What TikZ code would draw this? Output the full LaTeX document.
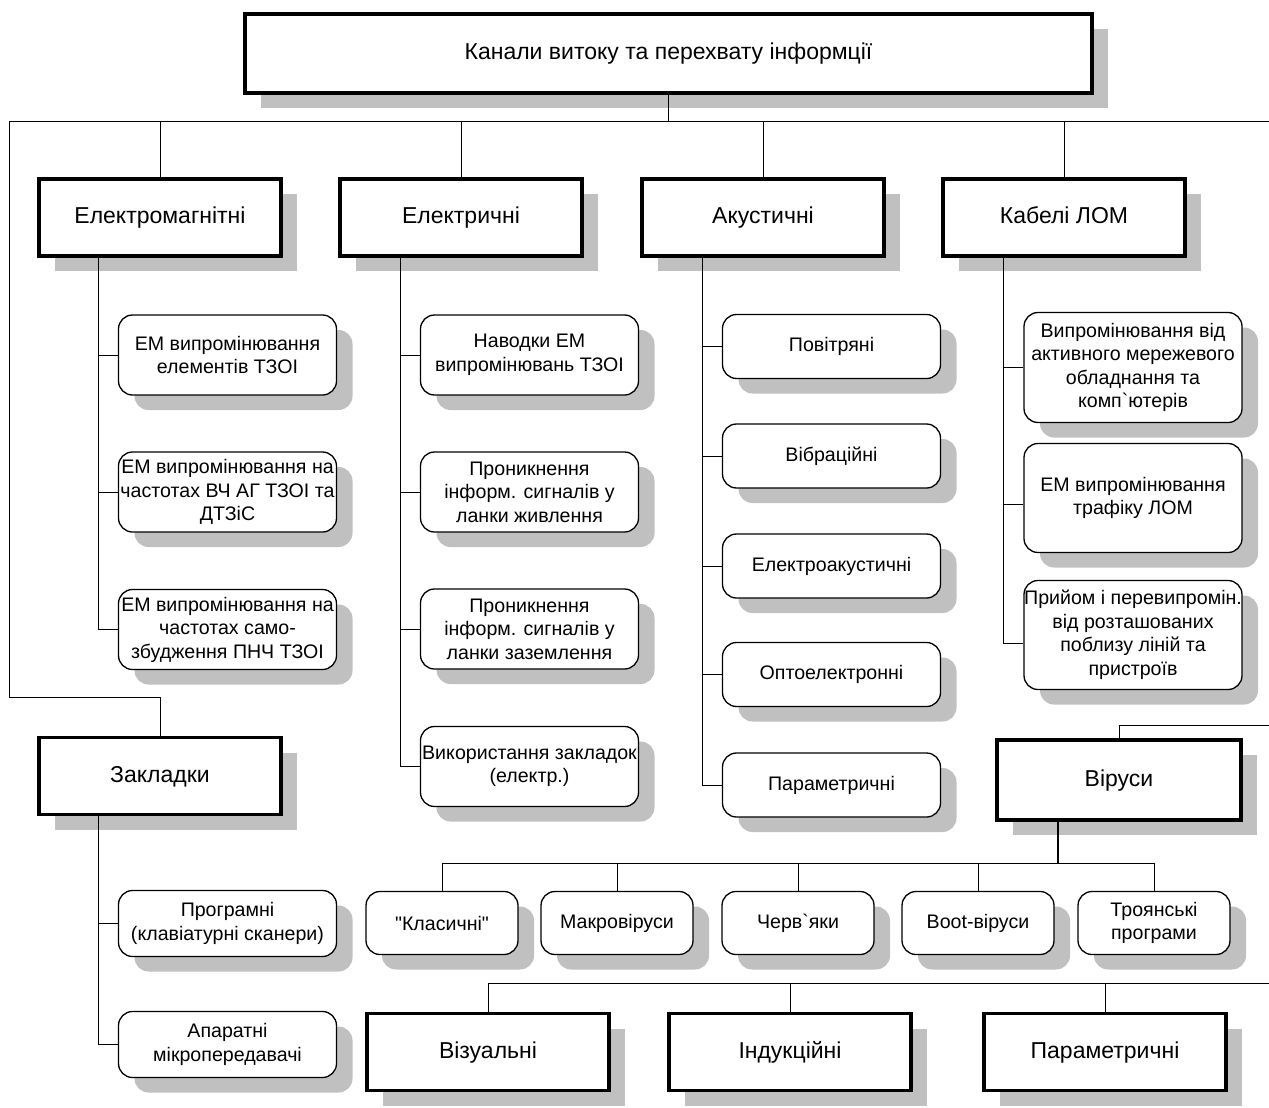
\documentclass[tikz,border=0pt]{standalone}
\usepackage{fontspec}
\setmainfont{Liberation Sans}
\usetikzlibrary{shadows}
\definecolor{shade}{HTML}{C0C0C0}
\tikzset{
  boxshadow/.style={drop shadow={shadow xshift=16pt, shadow yshift=-15pt, fill=shade, opacity=1}},
  topbox/.style={draw, line width=3.5pt, fill=white, inner sep=0pt,
    minimum width=242pt, minimum height=77pt, align=center,
    text height=16.5pt, text depth=4.5pt,
    font=\fontsize{23}{27}\selectfont, boxshadow},
  leaf/.style={draw, line width=1.3pt, rounded corners=14pt, fill=white, inner sep=0pt,
    minimum width=218pt, minimum height=80pt, align=center,
    font=\fontsize{19.6}{23.5}\selectfont, boxshadow},
  link/.style={line width=1pt},
  trunk/.style={line width=1.8pt},
}
\begin{document}
\begin{tikzpicture}[x=1pt, y=-1pt]
\useasboundingbox (0,0) rectangle (1269,1108);

% root and first level
\node[topbox, minimum width=847pt, minimum height=79pt] (root) at (668.5,53.5) {Канали витоку та перехвату інформції};
\node[topbox] (em)  at (160,217.5)  {Електромагнітні};
\node[topbox] (el)  at (461,217.5)  {Електричні};
\node[topbox] (ak)  at (763,217.5)  {Акустичні};
\node[topbox] (kab) at (1064,217.5) {Кабелі ЛОМ};
\node[topbox] (zak) at (160,776)    {Закладки};
\node[topbox, minimum width=244pt, minimum height=80pt] (vir) at (1119,780) {Віруси};
\node[topbox] (viz) at (488,1052)  {Візуальні};
\node[topbox] (ind) at (790,1052)  {Індукційні};
\node[topbox] (par) at (1105,1052) {Параметричні};

% electromagnetic
\node[leaf] (em1) at (227.5,355)   {ЕМ випромінювання\\елементів ТЗОІ};
\node[leaf] (em2) at (227.5,492)   {ЕМ випромінювання на\\частотах ВЧ АГ ТЗОІ та\\ДТЗіС};
\node[leaf] (em3) at (227.5,629.5) {ЕМ випромінювання на\\частотах само-\\збудження ПНЧ ТЗОІ};

% electric
\node[leaf] (el1) at (529.5,355)   {Наводки ЕМ\\випромінювань ТЗОІ};
\node[leaf] (el2) at (529.5,492)   {Проникнення\\інформ. сигналів у\\ланки живлення};
\node[leaf] (el3) at (529.5,629)   {Проникнення\\інформ. сигналів у\\ланки заземлення};
\node[leaf] (el4) at (529.5,766.5) {Використання закладок\\(електр.)};

% acoustic
\node[leaf, minimum height=64pt] (ak1) at (831.5,346.5) {Повітряні};
\node[leaf, minimum height=64pt] (ak2) at (831.5,456)   {Вібраційні};
\node[leaf, minimum height=64pt] (ak3) at (831.5,566)   {Електроакустичні};
\node[leaf, minimum height=64pt] (ak4) at (831.5,674.5) {Оптоелектронні};
\node[leaf, minimum height=64pt] (ak5) at (831.5,785)   {Параметричні};

% LAN cables
\node[leaf, minimum height=110pt] (kab1) at (1133,367.5) {Випромінювання від\\активного мережевого\\обладнання та\\комп\textasciigrave ютерів};
\node[leaf, minimum height=109pt] (kab2) at (1133,498)   {ЕМ випромінювання\\трафіку ЛОМ};
\node[leaf, minimum height=109pt] (kab3) at (1133,635)   {Прийом і перевипромін.\\від розташованих\\поблизу ліній та\\пристроїв};

% bugs
\node[leaf, minimum height=66pt] (zak1) at (227.5,923.5)  {Програмні\\(клавіатурні сканери)};
\node[leaf, minimum height=66pt] (zak2) at (227.5,1044.5) {Апаратні\\мікропередавачі};

% viruses
\node[leaf, minimum width=152pt, minimum height=63pt] (v1) at (442,923)  {\textquotedbl Класичні\textquotedbl};
\node[leaf, minimum width=152pt, minimum height=63pt] (v2) at (617,923)  {Макровіруси};
\node[leaf, minimum width=152pt, minimum height=63pt] (v3) at (798,923)  {Черв\textasciigrave яки};
\node[leaf, minimum width=152pt, minimum height=63pt] (v4) at (978,923)  {Boot-віруси};
\node[leaf, minimum width=152pt, minimum height=63pt] (v5) at (1154,923) {Троянські\\програми};

% bus lines and turning points
\coordinate (busL) at (9,121);
\coordinate (busR) at (1269,121);
\coordinate (zakbend) at (160,697);
\coordinate (virR) at (1269,725);
\coordinate (virbus) at (1058,863);
\coordinate (botR) at (1269,983);
\coordinate (emx) at (98,0);
\coordinate (elx) at (400,0);
\coordinate (akx) at (702,0);
\coordinate (kabx) at (1003,0);
\coordinate (zakx) at (98,0);
\coordinate (kab2pin) at ([yshift=-6pt]kab2.west);
\coordinate (kab3pin) at ([yshift=-8pt]kab3.west);

% top level connectors
\draw[trunk] (root.south) -- (root.south |- busL);
\draw[link] (busL) -- (busR);
\foreach \n in {em,el,ak,kab} \draw[link] (\n.north) -- (\n.north |- busL);
\draw[link] (busL) |- (zakbend) -- (zak.north);

% column connectors
\draw[link] (em.south -| emx) |- (em3.west);
\foreach \n in {em1,em2} \draw[link] (emx |- \n.west) -- (\n.west);
\draw[link] (el.south -| elx) |- (el4.west);
\foreach \n in {el1,el2,el3} \draw[link] (elx |- \n.west) -- (\n.west);
\draw[link] (ak.south -| akx) |- (ak5.west);
\foreach \n in {ak1,ak2,ak3,ak4} \draw[link] (akx |- \n.west) -- (\n.west);
\draw[link] (kab.south -| kabx) |- (kab3pin);
\draw[link] (kabx |- kab1.west) -- (kab1.west);
\draw[link] (kabx |- kab2pin) -- (kab2pin);
\draw[link] (zak.south -| zakx) |- (zak2.west);
\draw[link] (zakx |- zak1.west) -- (zak1.west);

% viruses
\draw[link] (vir.north) |- (virR);
\draw[trunk] (vir.south -| virbus) -- (virbus);
\draw[link] (v1.north |- virbus) -- (virbus);
\draw[link] (virbus) -- (v5.north |- virbus);
\foreach \n in {v1,v2,v3,v4,v5} \draw[link] (\n.north) -- (\n.north |- virbus);

% bottom row
\draw[link] (viz.north |- botR) -- (botR);
\foreach \n in {viz,ind,par} \draw[link] (\n.north) -- (\n.north |- botR);
\end{tikzpicture}
\end{document}
